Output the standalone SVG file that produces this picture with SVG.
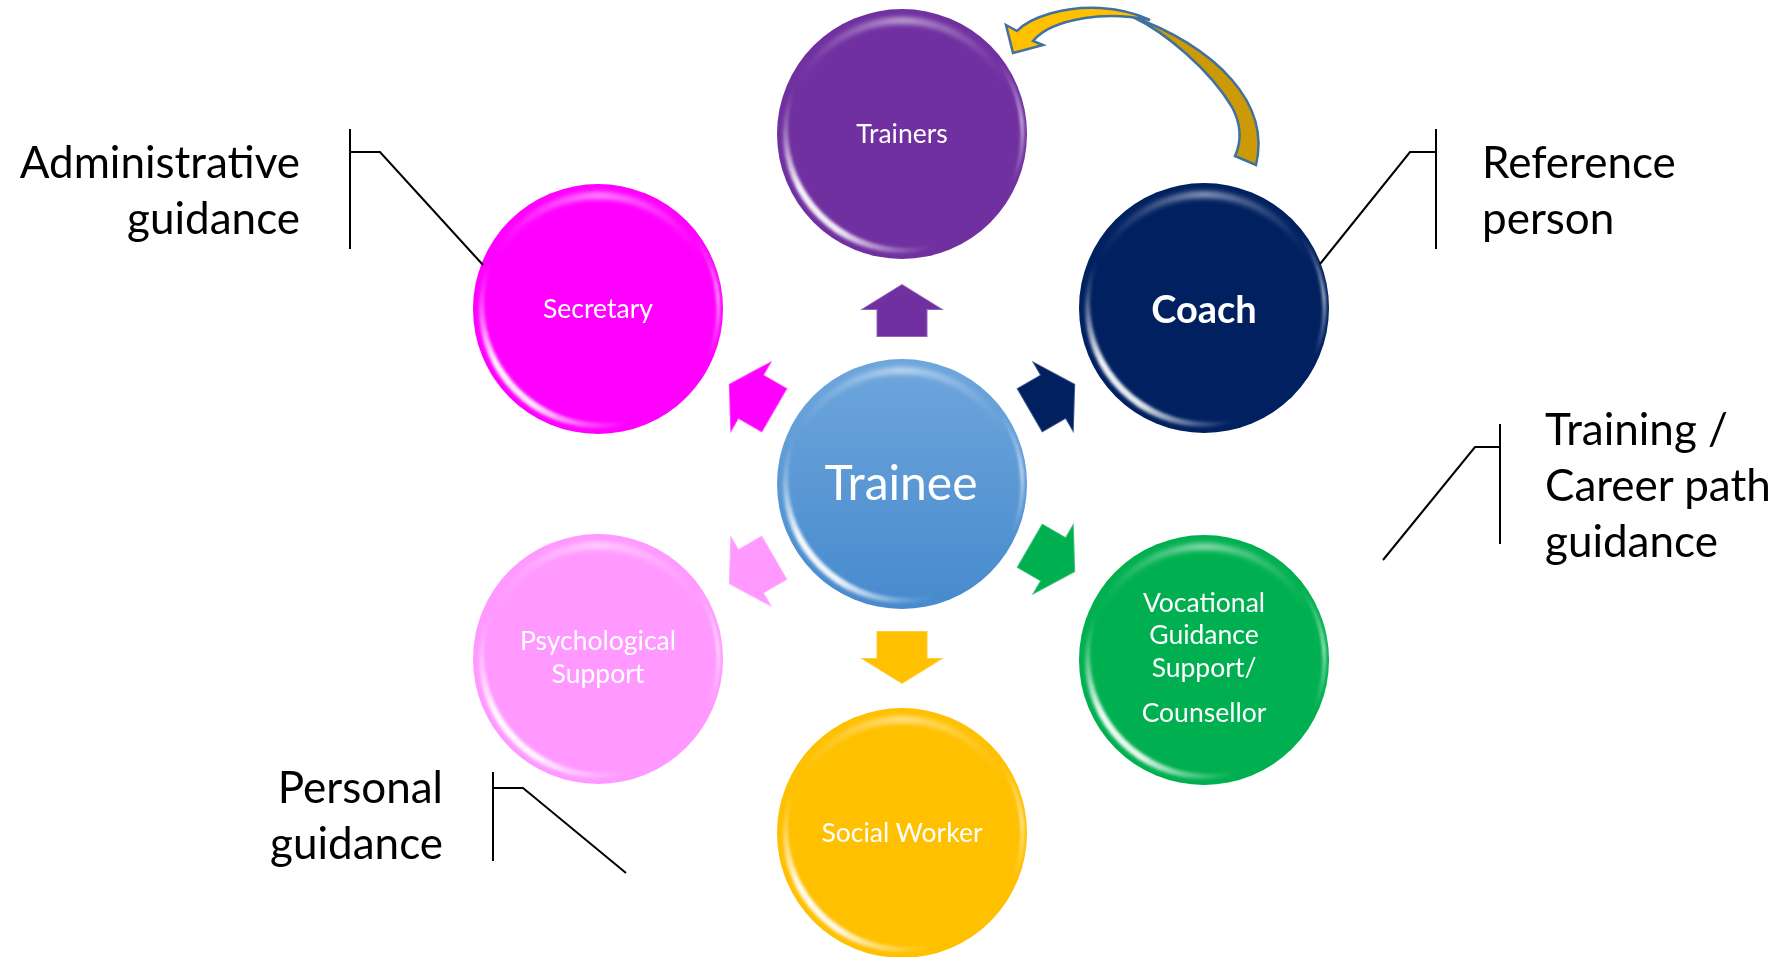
<svg xmlns="http://www.w3.org/2000/svg" width="1783" height="957" viewBox="0 0 1783 957">
  <style>
    .nt { font-family: Lato, "Open Sans", "Liberation Sans", sans-serif; fill: #ffffff; text-anchor: middle; font-size: 26.5px; }
    .lbl { font-family: Lato, "Open Sans", "Liberation Sans", sans-serif; fill: #000000; font-size: 44px; }
    .lead { fill: none; stroke: #000000; stroke-width: 2; }
    .curl { stroke: #41719C; stroke-width: 2.5; stroke-linejoin: miter; }
  </style>
  <defs>
    <linearGradient id="traineeFill" x1="0" y1="0" x2="0" y2="1">
      <stop offset="0" stop-color="#6EA6DC"/>
      <stop offset="1" stop-color="#478ACD"/>
    </linearGradient>
    <!-- fades for the bevel highlights -->
    <linearGradient id="sheenLow" x1="0" y1="0" x2="1" y2="1">
      <stop offset="0.12" stop-color="#ffffff" stop-opacity="0"/>
      <stop offset="0.38" stop-color="#ffffff" stop-opacity="0.95"/>
      <stop offset="0.58" stop-color="#ffffff" stop-opacity="0.9"/>
      <stop offset="0.85" stop-color="#ffffff" stop-opacity="0"/>
    </linearGradient>
    <linearGradient id="sheenRight" x1="0" y1="0" x2="0" y2="1">
      <stop offset="0.2" stop-color="#ffffff" stop-opacity="0"/>
      <stop offset="0.45" stop-color="#ffffff" stop-opacity="0.7"/>
      <stop offset="0.7" stop-color="#ffffff" stop-opacity="0"/>
    </linearGradient>
    <linearGradient id="sheenTop" x1="0" y1="0" x2="1" y2="0">
      <stop offset="0.05" stop-color="#ffffff" stop-opacity="0"/>
      <stop offset="0.5" stop-color="#ffffff" stop-opacity="0.55"/>
      <stop offset="0.95" stop-color="#ffffff" stop-opacity="0"/>
    </linearGradient>
    <filter id="soft" x="-20%" y="-20%" width="140%" height="140%">
      <feGaussianBlur stdDeviation="1.4"/>
    </filter>
    <filter id="softer" x="-20%" y="-20%" width="140%" height="140%">
      <feGaussianBlur stdDeviation="2.5"/>
    </filter>
    <!-- glossy bevel highlights for a radius-125 bubble centred on the origin -->
    <g id="gloss">
      <path d="M -116.95 3.5 A 117 117 0 1 1 116.95 3.5 A 117 117 0 0 0 -116.95 3.5 Z" fill="url(#sheenTop)" filter="url(#softer)"/>
      <path d="M 86.61 81.61 A 119 119 0 1 1 -81.61 -86.61 A 119 119 0 0 0 86.61 81.61 Z" fill="url(#sheenLow)" filter="url(#soft)"/>
      <path d="M -1.5 -121.99 A 122 122 0 1 1 -1.5 121.99 A 122 122 0 0 0 -1.5 -121.99 Z" fill="url(#sheenRight)" filter="url(#soft)"/>
    </g>
    <!-- outward block arrow, drawn pointing up from the hub centre -->
    <path id="blockArrow" d="M 0 -200 L 42 -174 L 25.5 -174 L 25.5 -147 L -25.5 -147 L -25.5 -174 L -42 -174 Z"/>
  </defs>

  <!-- arrows from the hub to each surrounding role -->
  <g id="connectors">
    <use href="#blockArrow" transform="translate(902 484) rotate(0)" fill="#7030A0"/>
    <use href="#blockArrow" transform="translate(902 484) rotate(60)" fill="#002060"/>
    <use href="#blockArrow" transform="translate(902 472) rotate(120)" fill="#00B050"/>
    <use href="#blockArrow" transform="translate(902 484) rotate(180)" fill="#FFC000"/>
    <use href="#blockArrow" transform="translate(902 484) rotate(240)" fill="#FF99FF"/>
    <use href="#blockArrow" transform="translate(902 484) rotate(300)" fill="#FF00FF"/>
    <g fill="none" stroke="#ffffff" stroke-width="2" opacity="0.25">
      <use href="#blockArrow" transform="translate(902 484) rotate(0)"/>
      <use href="#blockArrow" transform="translate(902 484) rotate(60)"/>
      <use href="#blockArrow" transform="translate(902 472) rotate(120)"/>
      <use href="#blockArrow" transform="translate(902 484) rotate(180)"/>
      <use href="#blockArrow" transform="translate(902 484) rotate(240)"/>
      <use href="#blockArrow" transform="translate(902 484) rotate(300)"/>
    </g>
    <!-- curved arrow from Coach back to Trainers -->
    <path class="curl" fill="#CC9A06" d="M 1256 165 C 1262 140, 1258 110, 1232 80 C 1208 52, 1170 30, 1133 17 C 1165 32, 1210 70, 1232 107 C 1243 128, 1240 145, 1235 156 Z"/>
    <path class="curl" fill="#FFC000" d="M 1006 25 L 1017 31 C 1030 17, 1065 6, 1100 8 C 1120 9, 1135 13, 1150 20 C 1130 16, 1110 14, 1085 18 C 1060 22, 1042 30, 1033 41 L 1043 45 L 1013 53 Z"/>
  </g>

  <g id="trainers">
    <circle cx="902" cy="134" r="125" fill="#7030A0"/>
    <use href="#gloss" x="902" y="134"/>
    <text class="nt" x="902" y="143">Trainers</text>
  </g>

  <g id="secretary">
    <circle cx="598" cy="309" r="125" fill="#FF00FF"/>
    <use href="#gloss" x="598" y="309"/>
    <text class="nt" x="598" y="318">Secretary</text>
  </g>

  <g id="coach">
    <circle cx="1204" cy="308" r="125" fill="#002060"/>
    <use href="#gloss" x="1204" y="308"/>
    <text class="nt" x="1204" y="323" style="font-weight:700;font-size:38px">Coach</text>
  </g>

  <g id="trainee">
    <circle cx="902" cy="484" r="125" fill="url(#traineeFill)"/>
    <use href="#gloss" x="902" y="484"/>
    <text class="nt" x="901" y="500" style="font-size:48px">Trainee</text>
  </g>

  <g id="psychological-support">
    <circle cx="598" cy="659" r="125" fill="#FF99FF"/>
    <use href="#gloss" x="598" y="659"/>
    <text class="nt" x="598" y="650">Psychological</text>
    <text class="nt" x="598" y="683">Support</text>
  </g>

  <g id="vocational-guidance">
    <circle cx="1204" cy="660" r="125" fill="#00B050"/>
    <use href="#gloss" x="1204" y="660"/>
    <text class="nt" x="1204" y="612">Vocational</text>
    <text class="nt" x="1204" y="644">Guidance</text>
    <text class="nt" x="1204" y="677">Support/</text>
    <text class="nt" x="1204" y="722">Counsellor</text>
  </g>

  <g id="social-worker">
    <circle cx="902" cy="833" r="125" fill="#FFC000"/>
    <use href="#gloss" x="902" y="833"/>
    <text class="nt" x="902" y="842">Social Worker</text>
  </g>

  <!-- bracketed callouts -->
  <g id="label-administrative">
    <text class="lbl" x="300" y="178" text-anchor="end">Administrative</text>
    <text class="lbl" x="300" y="234" text-anchor="end">guidance</text>
    <path class="lead" d="M 350 129 L 350 249 M 350 152 L 380 152 L 483 265"/>
  </g>

  <g id="label-reference">
    <text class="lbl" x="1482" y="178">Reference</text>
    <text class="lbl" x="1482" y="234">person</text>
    <path class="lead" d="M 1436 129 L 1436 249 M 1436 152 L 1410 152 L 1320 264"/>
  </g>

  <g id="label-training">
    <text class="lbl" x="1545" y="445">Training /</text>
    <text class="lbl" x="1545" y="501">Career path</text>
    <text class="lbl" x="1545" y="557">guidance</text>
    <path class="lead" d="M 1500 424 L 1500 544 M 1500 447 L 1475 447 L 1383 560"/>
  </g>

  <g id="label-personal">
    <text class="lbl" x="443" y="803" text-anchor="end">Personal</text>
    <text class="lbl" x="443" y="859" text-anchor="end">guidance</text>
    <path class="lead" d="M 493 772 L 493 861 M 493 788 L 523 788 L 626 873"/>
  </g>
</svg>
